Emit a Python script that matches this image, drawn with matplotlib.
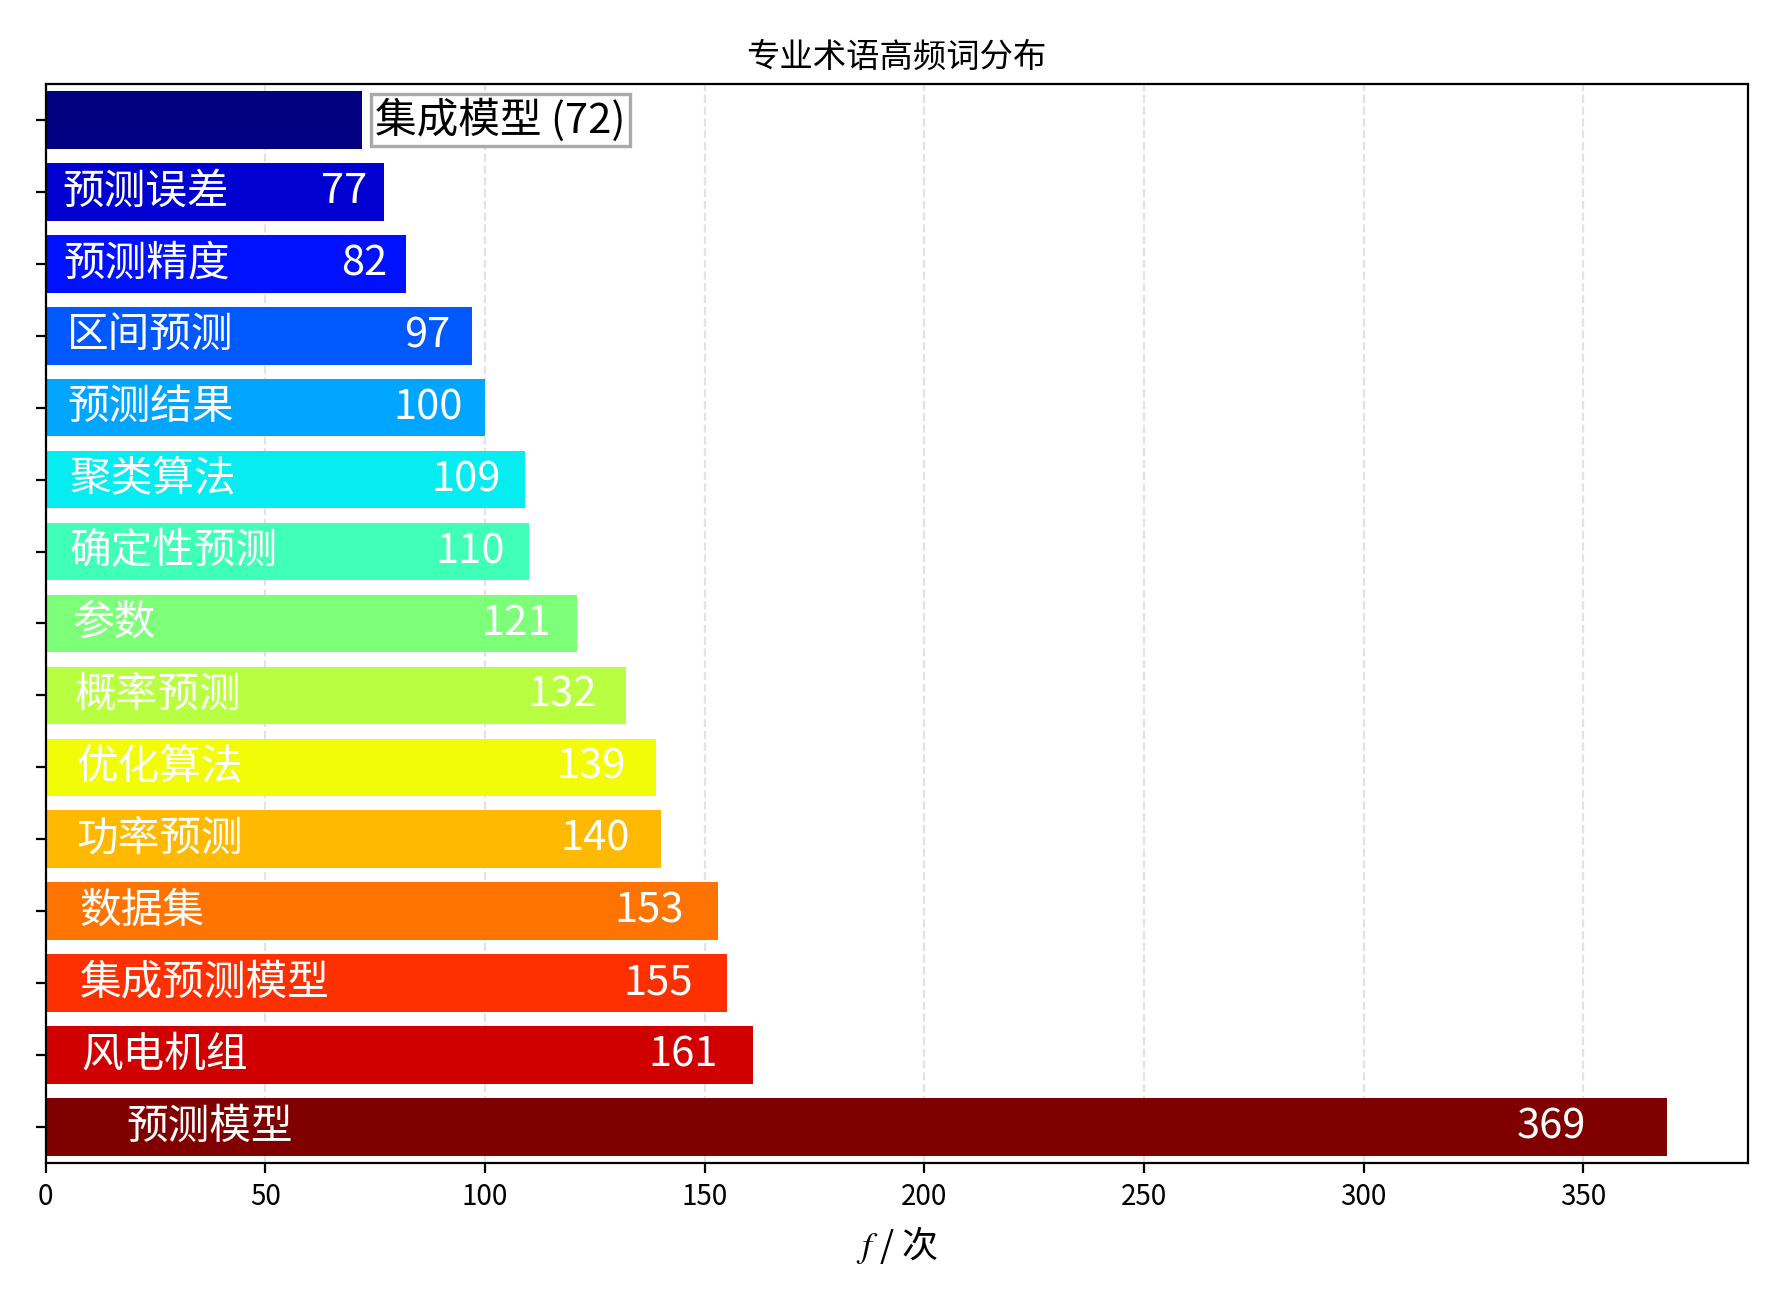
import matplotlib
matplotlib.use("Agg")
import matplotlib.pyplot as plt
import numpy as np

plt.rcParams["font.family"] = ["Noto Sans CJK SC", "DejaVu Sans"]
plt.rcParams["mathtext.fontset"] = "stix"

# 从下到上
TERMS = ["预测模型", "风电机组", "集成预测模型", "数据集", "功率预测", "优化算法",
         "概率预测", "参数", "确定性预测", "聚类算法", "预测结果", "区间预测",
         "预测精度", "预测误差", "集成模型"]
COUNTS = [369, 161, 155, 153, 140, 139, 132, 121, 110, 109, 100, 97, 82, 77, 72]

fig = plt.figure(figsize=(8.895, 6.56), dpi=200)
ax = fig.add_axes([0.0256, 0.1136, 0.9570, 0.8224])

n = len(COUNTS)
y = np.arange(n)
colors = plt.cm.jet(np.linspace(1, 0, n))
ax.barh(y, COUNTS, height=0.8, color=colors, zorder=2)

for i, (t, c) in enumerate(zip(TERMS, COUNTS)):
    if i == n - 1:
        ax.text(c + 3, i, f"{t} ({c})", va="center", ha="left", fontsize=15,
                color="black", zorder=3,
                bbox=dict(boxstyle="square,pad=0.1", fc="white", ec="#aaaaaa", lw=1.2))
    else:
        ax.text(c * 0.05, i, t, va="center", ha="left", fontsize=15, color="white", zorder=3)
        ax.text(c * 0.95, i, str(c), va="center", ha="right", fontsize=15, color="white", zorder=3)

ax.set_xlim(0, max(COUNTS) * 1.05)
ax.set_ylim(-0.5, n - 0.5)
ax.set_yticks(y)
ax.set_yticklabels([])
ax.grid(axis="x", linestyle="--", alpha=0.35, zorder=0)
ax.set_title("专业术语高频词分布", fontsize=12)
ax.set_xlabel("$f$ / 次", fontsize=13)
ax.tick_params(axis="x", labelsize=10)

fig.savefig("out.png", dpi=200)
